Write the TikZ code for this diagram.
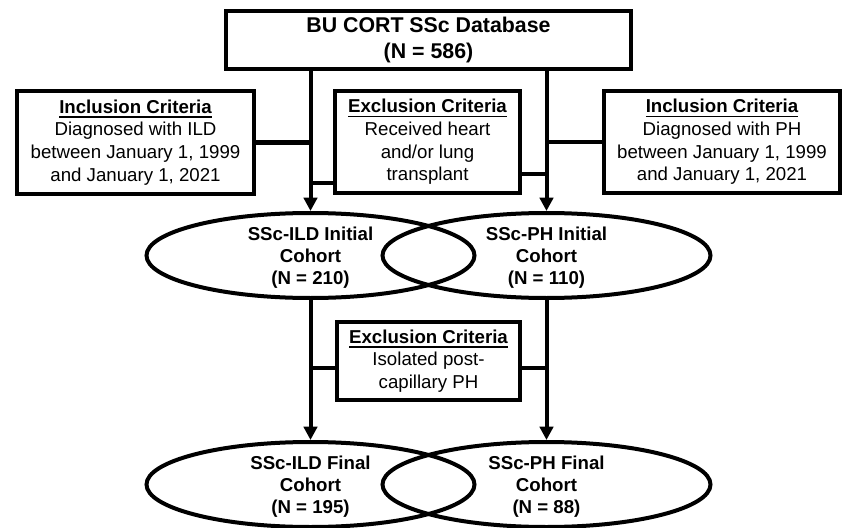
\documentclass[tikz,border=0pt]{standalone}
\usepackage{fontspec}
\setmainfont{Liberation Sans}
\usetikzlibrary{arrows.meta,shapes.geometric,calc}

% bold heading with a firm underline
\newcommand{\ulhead}[1]{\setbox0\hbox{\bfseries #1}\leavevmode\rlap{\rule[-3.4pt]{\wd0}{1.1pt}}\box0}

\begin{document}
\begin{tikzpicture}[x=0.75pt,y=-0.75pt,
  box/.style={draw, line width=3pt, align=center, inner sep=0pt,
    font=\fontsize{14pt}{17pt}\selectfont},
  cohort/.style={draw, ellipse, line width=3pt, inner sep=0pt,
    minimum width=246pt, minimum height=63.75pt},
  cohorttext/.style={align=center, inner sep=0pt,
    font=\bfseries\fontsize{14pt}{16.5pt}\selectfont},
  flow/.style={line width=3pt, -{Triangle[length=10pt,width=10pt]}},
  link/.style={line width=3pt}
]
\useasboundingbox (0,0) rectangle (843,528);
\fill[white] (0,0) rectangle (843,528);

% source database
\node[box, minimum width=303.75pt, minimum height=43.5pt,
  font=\bfseries\fontsize{16pt}{19.5pt}\selectfont] (db) at (428.5,40)
  {BU CORT SSc Database\\(N = 586)};

% selection criteria for the initial cohorts
\node[box, minimum width=177.75pt, minimum height=77.25pt] (inclILD) at (135.5,142.5)
  {\ulhead{Inclusion Criteria}\\Diagnosed with ILD\\between January 1, 1999\\and January 1, 2021};
\node[box, minimum width=138.75pt, minimum height=76.5pt] (excTx) at (427.5,142)
  {\ulhead{Exclusion Criteria}\\Received heart\\and/or lung\\transplant};
\node[box, minimum width=177pt, minimum height=76.5pt] (inclPH) at (722,142)
  {\ulhead{Inclusion Criteria}\\Diagnosed with PH\\between January 1, 1999\\and January 1, 2021};

% initial cohorts
\node[cohort] (ildA) at (310.5,255.5) {};
\node[cohort] (phA) at (546.5,255.5) {};
\node[cohorttext] at ($(ildA)+(0,2)$) {SSc-ILD Initial\\Cohort\\(N = 210)};
\node[cohorttext] at ($(phA)+(0,2)$) {SSc-PH Initial\\Cohort\\(N = 110)};

% second exclusion step
\node[box, minimum width=137.25pt, minimum height=58.5pt] (excPost) at (428.5,361)
  {\ulhead{Exclusion Criteria}\\Isolated post-\\capillary PH};

% final cohorts
\node[cohort] (ildB) at (310.5,484.5) {};
\node[cohort] (phB) at (546.5,484.5) {};
\node[cohorttext] at ($(ildB)+(0,2)$) {SSc-ILD Final\\Cohort\\(N = 195)};
\node[cohorttext] at ($(phB)+(0,2)$) {SSc-PH Final\\Cohort\\(N = 88)};

% flow lines
\draw[flow] (db.south -| ildA.north) -- (ildA.north);
\draw[flow] (db.south -| phA.north) -- (phA.north);
\draw[flow] (ildA.south) -- (ildB.north);
\draw[flow] (phA.south) -- (phB.north);

% criteria joined to the flow lines
\coordinate (excTxL) at ($(excTx.south west)+(0,-12)$);
\coordinate (excTxR) at ($(excTx.south east)+(0,-21)$);
\coordinate (excPostL) at ($(excPost.west)+(0,7)$);
\coordinate (excPostR) at ($(excPost.east)+(0,7)$);
\draw[link] (inclILD.east) -- (inclILD.east -| ildA.north);
\draw[link] (inclPH.west) -- (inclPH.west -| phA.north);
\draw[link] (excTxL) -- (excTxL -| ildA.north);
\draw[link] (excTxR) -- (excTxR -| phA.north);
\draw[link] (excPostL) -- (excPostL -| ildA.south);
\draw[link] (excPostR) -- (excPostR -| phA.south);
\end{tikzpicture}
\end{document}
